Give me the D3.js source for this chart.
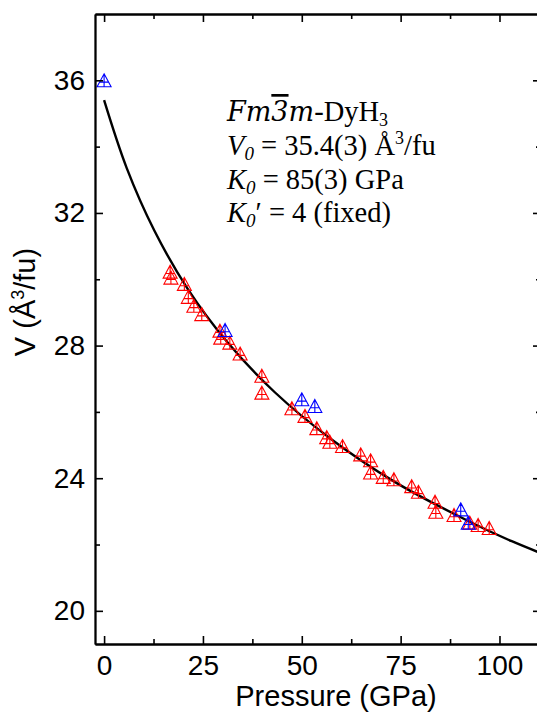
<!DOCTYPE html>
<html>
<head>
<meta charset="utf-8">
<script src="https://cdn.jsdelivr.net/npm/d3@7/dist/d3.min.js"></script>
<style>
  body { margin: 0; background: #fff; }
  svg { display: block; }
  .tick text { font-family: 'Liberation Sans', Arial, sans-serif; font-size: 28px; fill: #000; }
  .axis-title { font-family: 'Liberation Sans', Arial, sans-serif; font-size: 29px; fill: #000; }
  .note { font-family: 'Liberation Serif', 'Times New Roman', serif; font-size: 28.5px; fill: #000; }
  .math { font-family: 'DejaVu Serif', serif; font-style: italic; font-size: 27px; }
</style>
</head>
<body>
<svg width="537" height="713"></svg>
<script>
// red: P (GPa), V (A^3/fu)
const redP = [16.7, 16.9, 20.3, 21.3, 22.7, 24.7, 29.3, 29.5, 31.8, 34.4, 39.9, 39.9, 47.5, 50.8, 53.8, 56.3,
  57.1, 60.3, 64.9, 67.4, 67.4, 70.6, 73.3, 77.8, 79.5, 83.7, 83.9, 88.5, 92.5, 94.6, 97.4];
const redV = [30.23, 30.05, 29.86, 29.47, 29.20, 28.95, 28.45, 28.24, 28.09, 27.76, 27.09, 26.58, 26.11, 25.88, 25.51, 25.24,
  25.10, 24.97, 24.72, 24.54, 24.17, 24.04, 23.97, 23.76, 23.59, 23.29, 22.99, 22.89, 22.66, 22.59, 22.50];

// blue
const blueP = [0, 30.6, 50.0, 53.3, 90.2, 92.1];
const blueV = [36.0, 28.47, 26.38, 26.18, 23.06, 22.66];

// fit line
const fitP = [0, 5.7, 12.7, 21.1, 31.2, 43.1, 57.2, 73.5, 92.6, 103.1, 114.5];
const fitV = [35.4, 33.36, 31.47, 29.72, 28.10, 26.60, 25.20, 23.89, 22.68, 22.10, 21.55];

const xMajor = [0, 25, 50, 75, 100];
const xMinor = [12.5, 37.5, 62.5, 87.5];
const yMajor = [20, 24, 28, 32, 36];
const yMinor = [22, 26, 30, 34];

const svg = d3.select('svg');

const frame = { left: 95, right: 541, top: 14, bottom: 644 };

const xScale = d3.scaleLinear().domain([-2.3, 110.5]).range([frame.left, frame.right]);
const yScale = d3.scaleLinear().domain([19, 38]).range([frame.bottom, frame.top]);

svg.append('clipPath').attr('id', 'clip')
  .append('rect')
  .attr('x', frame.left).attr('y', frame.top)
  .attr('width', frame.right - frame.left).attr('height', frame.bottom - frame.top);

// fit curve
const fit = fitP.map((p, i) => [p, fitV[i]]);
svg.append('path')
  .datum(fit)
  .attr('clip-path', 'url(#clip)')
  .attr('fill', 'none')
  .attr('stroke', '#000')
  .attr('stroke-width', 2.4)
  .attr('d', d3.line()
    .x(d => xScale(d[0]))
    .y(d => yScale(d[1]))
    .curve(d3.curveCatmullRom));

// triangle with cross
const tri = 'M0,-6.5L7,6.5L-7,6.5Z M0,-6.5L0,6.5 M-4.4,1.8L4.4,1.8';

const drawPoints = (P, V, color) => {
  svg.append('g').selectAll('path')
    .data(P.map((p, i) => [p, V[i]]))
    .enter().append('path')
    .attr('transform', d => `translate(${xScale(d[0])},${yScale(d[1])})`)
    .attr('d', tri)
    .attr('fill', 'none')
    .attr('stroke', color)
    .attr('stroke-width', 1.1);
};
drawPoints(redP, redV, '#ff0000');
drawPoints(blueP, blueV, '#0000ff');

// axes
const axisStyle = g => {
  g.selectAll('.domain').attr('stroke-width', 1.8);
  g.selectAll('.tick line').attr('stroke-width', 1.6);
};

svg.append('g')
  .attr('transform', `translate(0,${frame.bottom})`)
  .call(d3.axisBottom(xScale).tickValues(xMajor).tickSize(-8).tickSizeOuter(0).tickPadding(11))
  .call(axisStyle)
  .selectAll('.tick text').attr('dy', '0.71em');
svg.append('g')
  .attr('transform', `translate(0,${frame.bottom})`)
  .call(d3.axisBottom(xScale).tickValues(xMinor).tickSize(-5).tickSizeOuter(0).tickFormat(''))
  .call(axisStyle);
svg.append('g')
  .attr('transform', `translate(0,${frame.top})`)
  .call(d3.axisTop(xScale).tickValues(xMajor).tickSize(-8).tickSizeOuter(0).tickFormat(''))
  .call(axisStyle);
svg.append('g')
  .attr('transform', `translate(0,${frame.top})`)
  .call(d3.axisTop(xScale).tickValues(xMinor).tickSize(-5).tickSizeOuter(0).tickFormat(''))
  .call(axisStyle);

svg.append('g')
  .attr('transform', `translate(${frame.left},0)`)
  .call(d3.axisLeft(yScale).tickValues(yMajor).tickSize(-8).tickSizeOuter(0).tickPadding(10))
  .call(axisStyle);
svg.append('g')
  .attr('transform', `translate(${frame.left},0)`)
  .call(d3.axisLeft(yScale).tickValues(yMinor).tickSize(-5).tickSizeOuter(0).tickFormat(''))
  .call(axisStyle);
svg.append('g')
  .attr('transform', `translate(${frame.right},0)`)
  .call(d3.axisRight(yScale).tickValues(yMajor).tickSize(-8).tickSizeOuter(0).tickFormat(''))
  .call(axisStyle);
svg.append('g')
  .attr('transform', `translate(${frame.right},0)`)
  .call(d3.axisRight(yScale).tickValues(yMinor).tickSize(-5).tickSizeOuter(0).tickFormat(''))
  .call(axisStyle);

// axis titles
svg.append('text')
  .attr('class', 'axis-title')
  .attr('x', 336)
  .attr('y', 706)
  .attr('text-anchor', 'middle')
  .text('Pressure (GPa)');

const yTitle = svg.append('text')
  .attr('class', 'axis-title')
  .attr('transform', 'translate(35,302) rotate(-90)')
  .attr('text-anchor', 'middle');
yTitle.append('tspan').text('V (Å');
yTitle.append('tspan').attr('font-size', '18px').attr('dy', -11).text('3');
yTitle.append('tspan').attr('dy', 11).text('/fu)');

// annotation
const noteX = 227;
const note = svg.append('g').attr('class', 'note');

const l1 = note.append('text').attr('x', noteX).attr('y', 121);
l1.append('tspan').attr('class', 'math').text('Fm');
l1.append('tspan').attr('class', 'math').attr('text-decoration', 'overline').text('3');
l1.append('tspan').attr('class', 'math').text('m');
l1.append('tspan').text('-DyH');
l1.append('tspan').attr('font-size', '18px').attr('dy', 5).text('3');

const l2 = note.append('text').attr('x', noteX).attr('y', 155);
l2.append('tspan').attr('font-style', 'italic').text('V');
l2.append('tspan').attr('font-style', 'italic').attr('font-size', '19px').attr('dy', 5).text('0');
l2.append('tspan').attr('dy', -5).text(' = 35.4(3) Å');
l2.append('tspan').attr('font-size', '18px').attr('dy', -11).text('3');
l2.append('tspan').attr('dy', 11).text('/fu');

const l3 = note.append('text').attr('x', noteX).attr('y', 189);
l3.append('tspan').attr('font-style', 'italic').text('K');
l3.append('tspan').attr('font-style', 'italic').attr('font-size', '19px').attr('dy', 5).text('0');
l3.append('tspan').attr('dy', -5).text(' = 85(3) GPa');

const l4 = note.append('text').attr('x', noteX).attr('y', 222);
l4.append('tspan').attr('font-style', 'italic').text('K');
l4.append('tspan').attr('font-style', 'italic').attr('font-size', '19px').attr('dy', 5).text('0');
l4.append('tspan').attr('dy', -5).text('′ = 4 (fixed)');
</script>
</body>
</html>
